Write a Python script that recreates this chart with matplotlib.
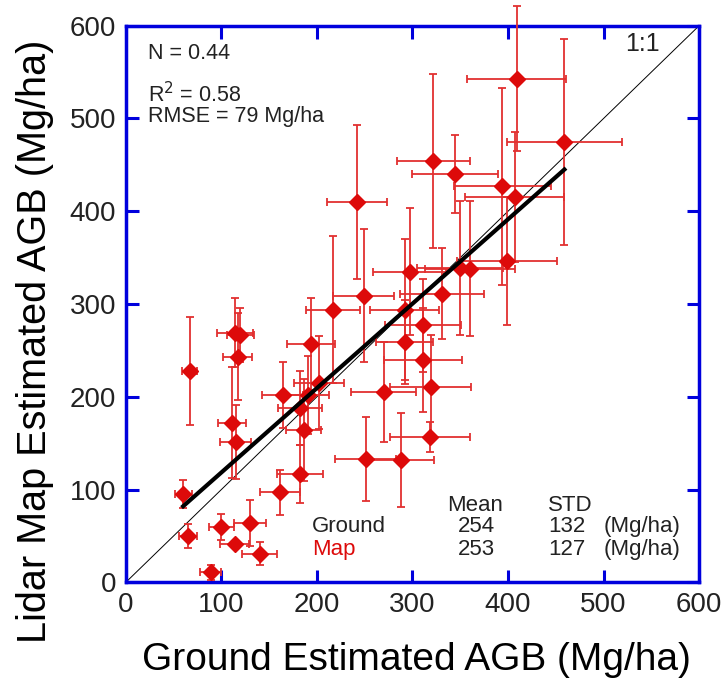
import matplotlib
matplotlib.use('AGG')
import matplotlib.pyplot as plt
from matplotlib import font_manager

# Ground vs lidar-map AGB comparison with error bars

ground = [60, 65, 67, 89, 100, 114, 111, 114, 115, 117, 120, 130, 140, 161, 164,
          182, 182, 186, 191, 194, 202, 217, 242, 251, 249, 270, 288, 292, 292, 297,
          311, 311, 319, 318, 322, 331, 345, 350, 360, 394, 399, 407, 409, 459]
lidar = [95, 50, 228, 11, 60, 41, 172, 269, 151, 243, 267, 64, 31, 97, 202,
         117, 188, 164, 202, 257, 215, 294, 410, 133, 309, 205, 132, 259, 294, 335,
         277, 240, 211, 157, 454, 311, 440, 339, 338, 427, 346, 415, 543, 475]
ground_err = [9, 9, 8, 11, 13, 15, 15, 19, 16, 15, 14, 17, 18, 21, 21,
              24, 23, 18, 22, 25, 26, 28, 31, 32, 32, 34, 35, 30, 36, 38,
              40, 41, 42, 42, 38, 44, 45, 45, 47, 51, 52, 52, 52, 60]
lidar_err = [15, 13, 58, 8, 14, 3, 60, 37, 40, 47, 29, 25, 12, 24, 36,
             31, 40, 55, 42, 50, 50, 79, 83, 45, 72, 54, 51, 45, 76, 68,
             50, 56, 56, 16, 94, 49, 42, 72, 73, 106, 69, 70, 78, 111]

fit_x = [60, 459]
fit_y = [82, 445]
one_to_one = [0, 600]

stats_rows = ['Ground', 'Map']
stats_mean = [254, 253]
stats_std = [132, 127]

names = {f.name for f in font_manager.fontManager.ttflist}
FONT = 'Liberation Sans Narrow' if 'Liberation Sans Narrow' in names else 'Liberation Sans'
plt.rcParams['font.family'] = [FONT, 'DejaVu Sans']

BLUE = '#0000dd'
RED = '#dd0a0a'
TEXT = '#222222'

fig = plt.figure(figsize=(7.23, 6.83), dpi=100)
ax = fig.add_axes([0.174, 0.1474, 0.793, 0.815])

ax.plot(one_to_one, one_to_one, color='black', lw=0.7)
ax.errorbar(ground, lidar, xerr=ground_err, yerr=lidar_err, fmt='D', ms=8,
            color=RED, mec=RED, ecolor='#e23030', elinewidth=1.3, capsize=2.6,
            capthick=1.3, clip_on=False, zorder=3)
ax.plot(fit_x, fit_y, color='black', lw=3, zorder=4)

ax.set_xlim(0, 600)
ax.set_ylim(0, 600)
ax.set_xticks(range(0, 601, 100))
ax.set_yticks(range(0, 601, 100))
for s in ax.spines.values():
    s.set_color(BLUE)
    s.set_linewidth(2.5)
ax.tick_params(direction='in', length=9, width=2.2, color=BLUE, top=True,
               right=True, labelsize=20, labelcolor=TEXT, pad=7)

ax.set_xlabel('Ground Estimated AGB (Mg/ha)', fontsize=28)
ax.set_ylabel('Lidar Map Estimated AGB (Mg/ha)', fontsize=28.5)
ax.xaxis.set_label_coords(0.507, -0.14)
ax.xaxis.label.set_va('center')
ax.yaxis.set_label_coords(-0.158, 0.433)
ax.yaxis.label.set_va('center')

ax.text(23, 570, 'N = 0.44', fontsize=15.5, color=TEXT, va='center')
ax.text(23, 526, r'R$^2$ = 0.58', fontsize=15.5, color=TEXT, va='center')
ax.text(23, 502, 'RMSE = 79 Mg/ha', fontsize=15.5, color=TEXT, va='center')
ax.text(559, 580, '1:1', fontsize=18, color=TEXT, ha='right', va='center')

ax.text(365, 83, 'Mean', fontsize=16, color=TEXT, ha='center', va='center')
ax.text(465, 83, 'STD', fontsize=16, color=TEXT, ha='center', va='center')
for i, row in enumerate(stats_rows):
    yy = 60 - i * 24.5
    ax.text(195, yy, row, fontsize=16, color=TEXT if i == 0 else RED, va='center')
    ax.text(367, yy, str(stats_mean[i]), fontsize=16, color=TEXT, ha='center', va='center')
    ax.text(442, yy, str(stats_std[i]), fontsize=16, color=TEXT, va='center')
    ax.text(500, yy, '(Mg/ha)', fontsize=16, color=TEXT, va='center')

plt.savefig('out.png', dpi=100)
